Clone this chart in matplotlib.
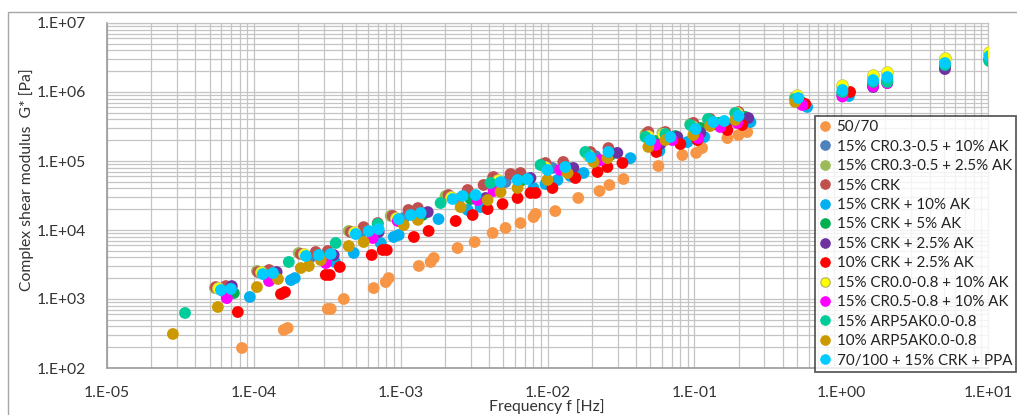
import matplotlib
matplotlib.use("Agg")
import matplotlib.pyplot as plt
from matplotlib.lines import Line2D
from matplotlib.patches import Rectangle
from matplotlib.ticker import LogLocator, NullFormatter

plt.rcParams['font.family'] = ['Lato', 'DejaVu Sans']

# ---- data: frequency f [Hz] and complex shear modulus G* [Pa] per binder ----
labels = [
    "50/70",
    "15% CR0.3-0.5 + 10% AK",
    "15% CR0.3-0.5 + 2.5% AK",
    "15% CRK",
    "15% CRK + 10% AK",
    "15% CRK + 5% AK",
    "15% CRK + 2.5% AK",
    "10% CRK + 2.5% AK",
    "15% CR0.0-0.8 + 10% AK",
    "15% CR0.5-0.8 + 10% AK",
    "15% ARP5AK0.0-0.8",
    "10% ARP5AK0.0-0.8",
    "70/100 + 15% CRK + PPA",
]

f_5070 = [8.3e-5, 1.60e-4, 1.70e-4, 3.19e-4, 3.34e-4, 4.10e-4, 6.55e-4, 7.91e-4, 8.29e-4,
          1.33e-3, 1.60e-3, 1.68e-3, 2.44e-3, 3.19e-3, 4.23e-3, 5.18e-3, 6.55e-3, 8.03e-3,
          8.29e-3, 1.13e-2, 1.62e-2, 2.26e-2, 2.64e-2, 3.29e-2, 5.69e-2, 8.29e-2, 1.03e-1,
          1.13e-1, 1.68e-1, 2.0e-1, 2.29e-1]
g_5070 = [195, 356, 380, 717, 717, 1000, 1440, 1760, 2010, 3010, 3440, 3930, 5480, 6700,
          9060, 10700, 12600, 15400, 17100, 18800, 29100, 36700, 44900, 54800, 84700,
          122000, 131000, 154000, 215000, 238000, 263000]

f_cr0305_10ak = [6.15e-5, 1.21e-4, 2.44e-4, 5.35e-4, 1.05e-3, 2.44e-3, 5.18e-3, 1.08e-2,
                 2.12e-2, 5.18e-2, 6.65e-2, 1.02e-1, 1.39e-1, 2.12e-1, 0.526, 1.02, 1.65,
                 2.06, 5.09, 10.2]
g_cr0305_10ak = [1310, 2230, 4060, 8750, 14900, 28100, 49600, 79200, 118000, 195000,
                 215000, 272000, 344000, 420000, 693000, 935000, 1260000, 1440000,
                 2300000, 2910000]

f_cr0305_25ak = [5.43e-5, 1.05e-4, 2.02e-4, 4.43e-4, 8.55e-4, 2.02e-3, 4.23e-3, 9.25e-3,
                 1.87e-2, 4.65e-2, 6.06e-2, 9.39e-2, 1.24e-1, 1.90e-1, 0.486, 1.02, 1.65,
                 2.06, 5.09, 10.2]
g_cr0305_25ak = [1440, 2550, 4650, 9680, 16000, 31100, 56700, 90600, 131000, 246000,
                 255000, 344000, 393000, 496000, 847000, 1180000, 1650000, 1820000,
                 2910000, 3560000]

f_crk = [5.51e-5, 6.45e-5, 1.07e-4, 1.27e-4, 2.09e-4, 2.64e-4, 3.19e-4, 4.57e-4, 5.60e-4,
         6.98e-4, 8.83e-4, 1.13e-3, 1.31e-3, 2.12e-3, 2.86e-3, 3.67e-3, 4.29e-3, 5.60e-3,
         6.55e-3, 9.69e-3, 1.28e-2, 1.96e-2, 2.60e-2, 4.86e-2, 6.35e-2, 9.85e-2, 1.28e-1,
         2.0e-1]
g_crk = [1490, 1540, 2460, 2630, 4490, 4800, 4960, 9350, 11000, 12600, 16000, 19500,
         20800, 32100, 38000, 44900, 58600, 64800, 67000, 93500, 96800, 135000, 154000,
         263000, 263000, 356000, 406000, 513000]

f_crk_10ak = [9.39e-5, 1.79e-4, 1.90e-4, 3.56e-4, 4.79e-4, 7.31e-4, 8.96e-4, 9.69e-4,
              1.81e-3, 2.86e-3, 3.50e-3, 8.03e-3, 9.69e-3, 1.17e-2, 1.43e-2, 1.76e-2,
              3.67e-2, 5.78e-2, 8.96e-2, 1.17e-1, 2.41e-1, 0.587, 1.13]
g_crk_10ak = [1070, 1880, 2010, 3440, 4650, 6480, 7920, 8470, 14400, 19500, 21500, 40600,
              46400, 53100, 60700, 67000, 110000, 140000, 188000, 223000, 367000, 607000,
              875000]

f_crk_5ak = [7.31e-5, 1.41e-4, 2.95e-4, 6.45e-4, 1.41e-3, 2.99e-3, 6.55e-3, 1.39e-2,
             2.68e-2, 5.43e-2, 7.43e-2, 1.10e-1, 1.46e-1, 2.22e-1, 0.526, 1.02, 1.65,
             2.06, 5.09, 10.2]
g_crk_5ak = [1220, 2150, 3930, 8750, 16500, 28100, 51300, 79200, 122000, 195000, 230000,
             301000, 356000, 435000, 741000, 968000, 1310000, 1490000, 2380000, 3010000]

f_crk_25ak = [7.08e-5, 1.43e-4, 3.50e-4, 7.08e-4, 1.53e-3, 3.79e-3, 7.66e-3, 1.50e-2,
              2.99e-2, 5.87e-2, 7.66e-2, 1.10e-1, 1.65e-1, 2.33e-1, 0.551, 1.02, 1.65,
              2.06, 5.09]
g_crk_25ak = [1540, 2460, 4340, 9350, 18200, 29100, 56700, 79200, 131000, 176000, 223000,
              255000, 344000, 420000, 670000, 875000, 1180000, 1350000, 2150000]

f_10crk_25ak = [7.78e-5, 1.53e-4, 1.63e-4, 3.09e-4, 3.29e-4, 3.85e-4, 6.35e-4, 7.55e-4,
                8.04e-4, 1.23e-3, 1.55e-3, 2.37e-3, 3.09e-3, 3.91e-3, 4.94e-3, 6.25e-3,
                7.66e-3, 8.29e-3, 1.08e-2, 1.55e-2, 2.19e-2, 2.56e-2, 3.24e-2, 5.51e-2,
                8.03e-2, 1.05e-1, 1.68e-1, 2.12e-1, 0.569, 1.15]
g_10crk_25ak = [648, 1180, 1260, 2230, 2230, 2910, 4340, 5130, 5130, 7920, 9680, 13500,
                16500, 20100, 23800, 29100, 34400, 34400, 40600, 56700, 69300, 81900,
                93500, 135000, 176000, 201000, 281000, 333000, 670000, 1000000]

f_cr0008_10ak = [5.69e-5, 1.12e-4, 2.19e-4, 4.79e-4, 9.25e-4, 2.19e-3, 4.57e-3, 9.69e-3,
                 1.90e-2, 4.86e-2, 6.15e-2, 9.69e-2, 1.28e-1, 1.96e-1, 0.502, 1.02, 1.65,
                 2.06, 5.09, 10.2]
g_cr0008_10ak = [1440, 2460, 4490, 9350, 14900, 30100, 53100, 81900, 122000, 230000,
                 246000, 321000, 380000, 496000, 906000, 1260000, 1760000, 1950000,
                 3110000, 3800000]

f_cr0508_10ak = [6.55e-5, 1.27e-4, 3.09e-4, 6.45e-4, 9.55e-4, 3.34e-3, 4.29e-3, 1.22e-2,
                 2.29e-2, 5.43e-2, 7.08e-2, 1.06e-1, 1.50e-1, 1.96e-1, 0.543, 1.02, 1.65,
                 2.06]
g_cr0508_10ak = [1030, 1820, 3320, 7660, 13500, 27200, 36700, 74100, 103000, 171000,
                 201000, 215000, 311000, 356000, 648000, 860000, 1220000, 1350000]

f_15arp = [3.40e-5, 1.73e-4, 3.61e-4, 6.98e-4, 1.87e-3, 4.09e-3, 8.96e-3, 1.81e-2,
           4.65e-2, 6.35e-2, 9.39e-2, 1.24e-1, 1.90e-1, 0.486, 1.02, 1.65, 2.06, 5.09, 10.2]
g_15arp = [627, 3440, 6480, 12200, 24600, 48000, 87500, 135000, 223000, 246000, 333000,
           406000, 496000, 792000, 1000000, 1400000, 1400000, 2460000, 2810000]

f_10arp = [2.81e-5, 5.69e-5, 1.05e-4, 1.46e-4, 2.09e-4, 2.37e-4, 2.86e-4, 4.43e-4, 5.60e-4,
           1.05e-3, 1.31e-3, 2.56e-3, 3.91e-3, 4.79e-3, 6.25e-3, 1.0e-2, 1.37e-2, 2.06e-2,
           2.56e-2, 4.86e-2, 6.35e-2, 9.85e-2, 1.28e-1, 1.90e-1, 0.486]
g_10arp = [311, 766, 1490, 1950, 2810, 3010, 3670, 5860, 6700, 11800, 14000, 21500, 27200,
           35600, 40600, 53100, 67000, 96800, 110000, 160000, 201000, 238000, 321000,
           393000, 717000]

f_ppa = [5.97e-5, 6.98e-5, 1.15e-4, 1.35e-4, 2.26e-4, 2.77e-4, 3.34e-4, 4.94e-4, 6.06e-4,
         7.08e-4, 9.69e-4, 1.17e-3, 1.37e-3, 2.26e-3, 2.64e-3, 3.24e-3, 4.79e-3, 6.25e-3,
         7.31e-3, 1.0e-2, 1.32e-2, 1.96e-2, 2.60e-2, 5.02e-2, 6.87e-2, 1.02e-1, 1.35e-1,
         1.60e-1, 2.0e-1, 0.51, 1.02, 1.65, 2.06, 5.09, 10.2]
g_ppa = [1350, 1400, 2300, 2380, 4200, 4340, 4490, 8750, 9680, 10300, 14400, 16500, 17600,
         28100, 31100, 32100, 49600, 53100, 54800, 74100, 81900, 114000, 135000, 201000,
         223000, 291000, 367000, 380000, 449000, 819000, 1070000, 1490000, 1650000,
         2630000, 3320000]

freqs = [f_5070, f_cr0305_10ak, f_cr0305_25ak, f_crk, f_crk_10ak, f_crk_5ak, f_crk_25ak,
         f_10crk_25ak, f_cr0008_10ak, f_cr0508_10ak, f_15arp, f_10arp, f_ppa]
moduli = [g_5070, g_cr0305_10ak, g_cr0305_25ak, g_crk, g_crk_10ak, g_crk_5ak, g_crk_25ak,
          g_10crk_25ak, g_cr0008_10ak, g_cr0508_10ak, g_15arp, g_10arp, g_ppa]

colors = ["#F79646", "#4F81BD", "#9BBB59", "#C0504D", "#00B0F0", "#00B050", "#7030A0",
          "#FF0000", "#FFFF00", "#FF00FF", "#00CC99", "#CC9900", "#00CCFF"]

# ---- figure ----
W, H = 1017, 415
fig = plt.figure(figsize=(W / 100, H / 100), dpi=100)
fig.patch.set_facecolor("white")

# outer chart border
fig.add_artist(Rectangle((8 / W, -0.1), 1.2, 1.1 - 12 / H, transform=fig.transFigure,
                         fill=False, edgecolor="#A6A6A6", linewidth=1.0))

ax = fig.add_axes([107 / W, 47 / H, (988 - 107) / W, (368 - 23) / H])
ax.set_xscale("log")
ax.set_yscale("log")
ax.set_xlim(1e-5, 10)
ax.set_ylim(1e2, 1e7)

ax.xaxis.set_minor_locator(LogLocator(base=10, subs=range(2, 10), numticks=20))
ax.yaxis.set_minor_locator(LogLocator(base=10, subs=range(2, 10), numticks=20))
ax.xaxis.set_minor_formatter(NullFormatter())
ax.yaxis.set_minor_formatter(NullFormatter())

xt = [1e-5, 1e-4, 1e-3, 1e-2, 1e-1, 1e0, 1e1]
xtl = ["1.E-05", "1.E-04", "1.E-03", "1.E-02", "1.E-01", "1.E+00", "1.E+01"]
yt = [1e2, 1e3, 1e4, 1e5, 1e6, 1e7]
ytl = ["1.E+02", "1.E+03", "1.E+04", "1.E+05", "1.E+06", "1.E+07"]
ax.set_xticks(xt)
ax.set_xticklabels(xtl)
ax.set_yticks(yt)
ax.set_yticklabels(ytl)

ax.grid(True, which="both", color="#C4C4C4", linewidth=0.9)
ax.set_axisbelow(True)
ax.tick_params(which="both", length=0)
ax.tick_params(axis="x", pad=13, labelsize=11.3, labelcolor="#333333")
ax.tick_params(axis="y", pad=15, labelsize=11.3, labelcolor="#333333")
for side in ["top", "right"]:
    ax.spines[side].set_color("#C4C4C4")
    ax.spines[side].set_linewidth(0.9)
for side in ["left", "bottom"]:
    ax.spines[side].set_color("#9A9A9A")
    ax.spines[side].set_linewidth(1.2)

for f, g, c in zip(freqs, moduli, colors):
    edge = "#C8C870" if c == "#FFFF00" else "none"
    ax.scatter(f, g, s=72, color=c, edgecolors=edge, linewidths=0.6, zorder=3)

fig.text(27 / W, 1 - 180 / H, "Complex shear modulus  G* [Pa]", rotation=90,
         ha="center", va="center", fontsize=11.3, color="#333333")
fig.text(547 / W, 1 - 407 / H, "Frequency f [Hz]", ha="center", va="center",
         fontsize=11.3, color="#333333")

handles = []
for c in colors:
    edge = "#B0B060" if c == "#FFFF00" else c
    handles.append(Line2D([], [], linestyle="none", marker="o", markersize=6.8,
                          markerfacecolor=c, markeredgecolor=edge, markeredgewidth=0.8))
leg = fig.legend(handles, labels, loc="upper left", bbox_to_anchor=(815 / W, 1 - 116 / H),
                 bbox_transform=fig.transFigure, borderaxespad=0, frameon=True,
                 fancybox=False, edgecolor="#333333", fontsize=10.9, borderpad=0.28,
                 labelspacing=0.36, handlelength=0.75, handletextpad=0.4)
leg.get_frame().set_linewidth(1.3)
for t in leg.get_texts():
    t.set_color("#222222")

fig.savefig("out.png", dpi=100)
